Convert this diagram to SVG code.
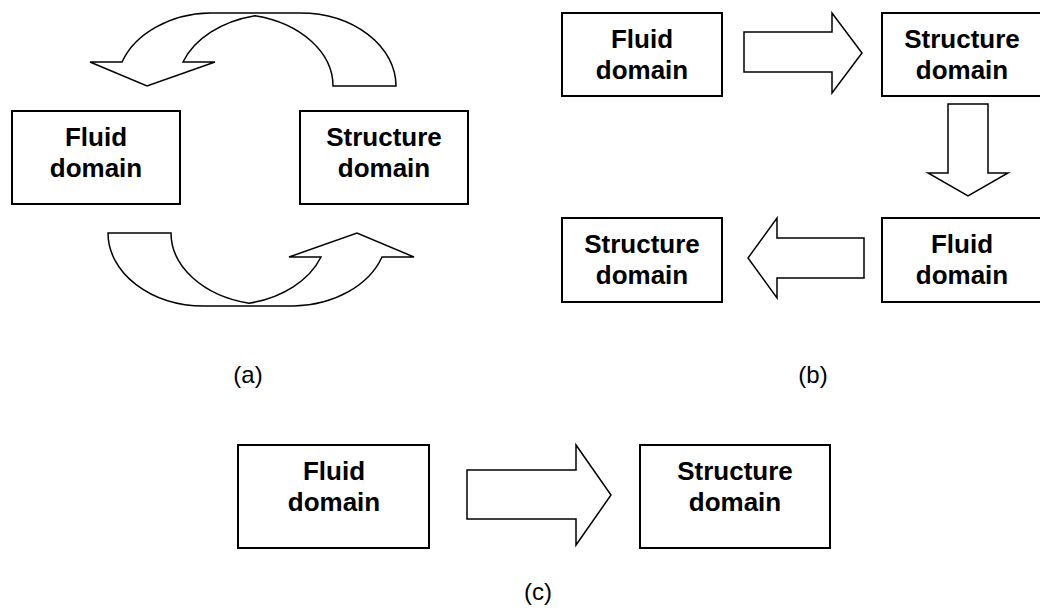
<svg xmlns="http://www.w3.org/2000/svg" width="1040" height="608" viewBox="0 0 1040 608">
<style>
.box{fill:#fff;stroke:#000;stroke-width:2}
.arr{fill:#fff;stroke:#000;stroke-width:1.5;stroke-linejoin:miter}
.t{font-family:"Liberation Sans",Arial,sans-serif;font-weight:bold;font-size:26px;text-anchor:middle;fill:#000}
.lbl{font-family:"Liberation Sans",Arial,sans-serif;font-size:24px;text-anchor:middle;fill:#000}
</style>
<defs>
<path id="curvedArrow" d="M333,86 L396,86 A96 73 0 0 0 300,13 L210,13 A96 73 0 0 0 122,62 L90,62 L147,86 L215,62 L183,62 A100 72 0 0 1 255,15.8 A100 72 0 0 1 333,86 Z"/>
</defs>
<rect width="1040" height="608" fill="#fff"/>
<g id="connectors">
<use href="#curvedArrow" class="arr"/>
<use href="#curvedArrow" class="arr" transform="rotate(180 252 159.5)"/>
<polygon class="arr" points="744,32 832,32 832,13 862,53 832,93 832,72 744,72"/>
<polygon class="arr" points="948,104 988,104 988,173 1008,173 968,196 928,173 948,173"/>
<polygon class="arr" points="864,238 777,238 777,218 748,258 777,298 777,278 864,278"/>
<polygon class="arr" points="467,470 576,470 576,445 611,495 576,545 576,519 467,519"/>
</g>
<g id="a-fluid"><rect class="box" x="12" y="111" width="168" height="93"/><text class="t" x="96" y="146">Fluid</text><text class="t" x="96" y="177">domain</text></g>
<g id="a-structure"><rect class="box" x="300" y="111" width="168" height="93"/><text class="t" x="384" y="146">Structure</text><text class="t" x="384" y="177">domain</text></g>
<g id="b-fluid1"><rect class="box" x="562" y="13" width="160" height="83"/><text class="t" x="642" y="48">Fluid</text><text class="t" x="642" y="79">domain</text></g>
<g id="b-structure1"><rect class="box" x="882" y="13" width="160" height="83"/><text class="t" x="962" y="48">Structure</text><text class="t" x="962" y="79">domain</text></g>
<g id="b-structure2"><rect class="box" x="562" y="218" width="160" height="84"/><text class="t" x="642" y="253">Structure</text><text class="t" x="642" y="284">domain</text></g>
<g id="b-fluid2"><rect class="box" x="882" y="218" width="160" height="84"/><text class="t" x="962" y="253">Fluid</text><text class="t" x="962" y="284">domain</text></g>
<g id="c-fluid"><rect class="box" x="238" y="445" width="191" height="103"/><text class="t" x="334" y="480">Fluid</text><text class="t" x="334" y="511">domain</text></g>
<g id="c-structure"><rect class="box" x="640" y="445" width="190" height="103"/><text class="t" x="735" y="480">Structure</text><text class="t" x="735" y="511">domain</text></g>
<g id="labels">
<text class="lbl" x="248" y="383">(a)</text>
<text class="lbl" x="813" y="383">(b)</text>
<text class="lbl" x="538" y="600">(c)</text>
</g>
</svg>
